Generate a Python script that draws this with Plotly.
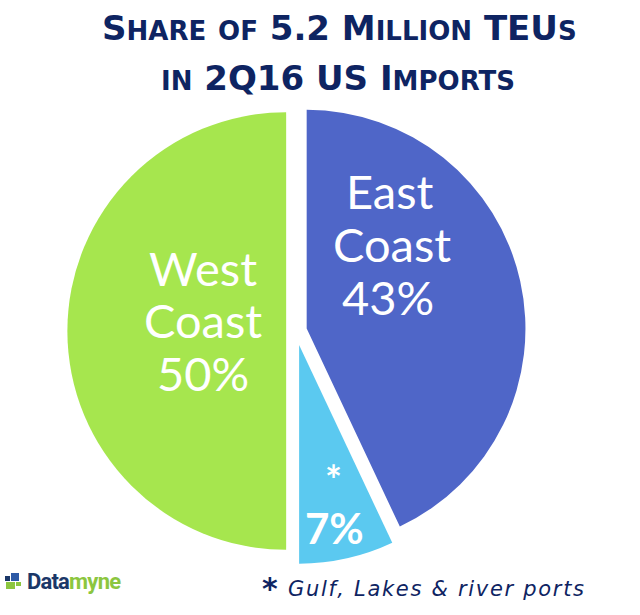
import plotly.graph_objects as go

# Data
regions = ["East Coast", "Other*", "West Coast"]
shares = [43, 7, 50]
slice_colors = ["#4F66C8", "#5BC9F0", "#A6E64E"]
pulls = [0.05, 0.065, 0.045]

NAVY = "#0E2462"
W, H = 640, 615


def px_x(x):
    return x / W


def px_y(y):
    return 1 - y / H


fig = go.Figure(go.Pie(
    labels=regions, values=shares, sort=False, direction="clockwise", rotation=0,
    marker=dict(colors=slice_colors, line=dict(width=0)),
    pull=pulls, textinfo="none", hoverinfo="label+percent",
    domain=dict(x=[px_x(63), px_x(529)], y=[px_y(564), px_y(98)]),
    showlegend=False,
))


def note(text, x, y, font, xanchor="center", height=None):
    d = dict(text=text, x=px_x(x), y=px_y(y), xref="paper", yref="paper",
             showarrow=False, font=font, xanchor=xanchor, yanchor="middle")
    if height:
        d["height"] = height
    return d


ann = []
lab_font = dict(family="Lato", size=47, color="white")
# slice labels, one annotation per line
for txt, x, y in [("East", 390, 191), ("Coast", 392, 244), ("43%", 388, 297),
                  ("West", 203, 268), ("Coast", 203, 320), ("50%", 203, 373)]:
    ann.append(note(txt, x, y, lab_font, height=48))
ann.append(note("<b>*</b>", 333, 480, dict(family="Lato", size=40, color="white"), height=36))
ann.append(note("<b>7%</b>", 334, 528, dict(family="Lato", size=42, color="white"), height=44))


# small-caps title
def small_caps(s, small=26):
    out = []
    for ch in s:
        if ch.islower():
            out.append(f"<span style='font-size:{small}px'>{ch.upper()}</span>")
        else:
            out.append(ch)
    return "<b>" + "".join(out) + "</b>"


title_font = dict(family="DejaVu Sans", size=34, color=NAVY)
ann.append(note(small_caps("Share of 5.2 Million TEUs"), 339, 28, title_font))
ann.append(note(small_caps("in 2Q16 US Imports"), 338, 78, title_font))

# footnote
ann.append(note("<b>*</b>", 270, 588, dict(family="DejaVu Sans", size=30, color=NAVY)))
ann.append(note("<i><span style='letter-spacing:1.7px'>Gulf, Lakes &amp; river ports</span></i>",
                286, 589, dict(family="DejaVu Sans", size=21, color=NAVY), xanchor="left"))

# logo
ann.append(note("<b><span style='letter-spacing:-0.8px'><span style='color:#1B3768'>Data</span>"
                "<span style='color:#8CC63F'>myne</span></span></b>",
                25, 581, dict(family="Roboto", size=22), xanchor="left"))

shapes = []
for (x0, y0, x1, y1, c) in [(5, 576, 10, 581, "#1B3768"), (11, 573, 19, 581, "#2D5AA6"),
                            (6, 582, 15, 589, "#8CC63F"), (16, 582, 21, 586, "#8CC63F")]:
    shapes.append(dict(type="rect", xref="paper", yref="paper",
                       x0=px_x(x0), x1=px_x(x1), y0=px_y(y1), y1=px_y(y0),
                       fillcolor=c, line=dict(width=0)))

fig.update_layout(width=W, height=H, margin=dict(l=0, r=0, t=0, b=0),
                  paper_bgcolor="white", plot_bgcolor="white",
                  annotations=ann, shapes=shapes)

fig.write_html("out.html", config={"displayModeBar": False},
               post_script="document.body.style.margin='0';")
